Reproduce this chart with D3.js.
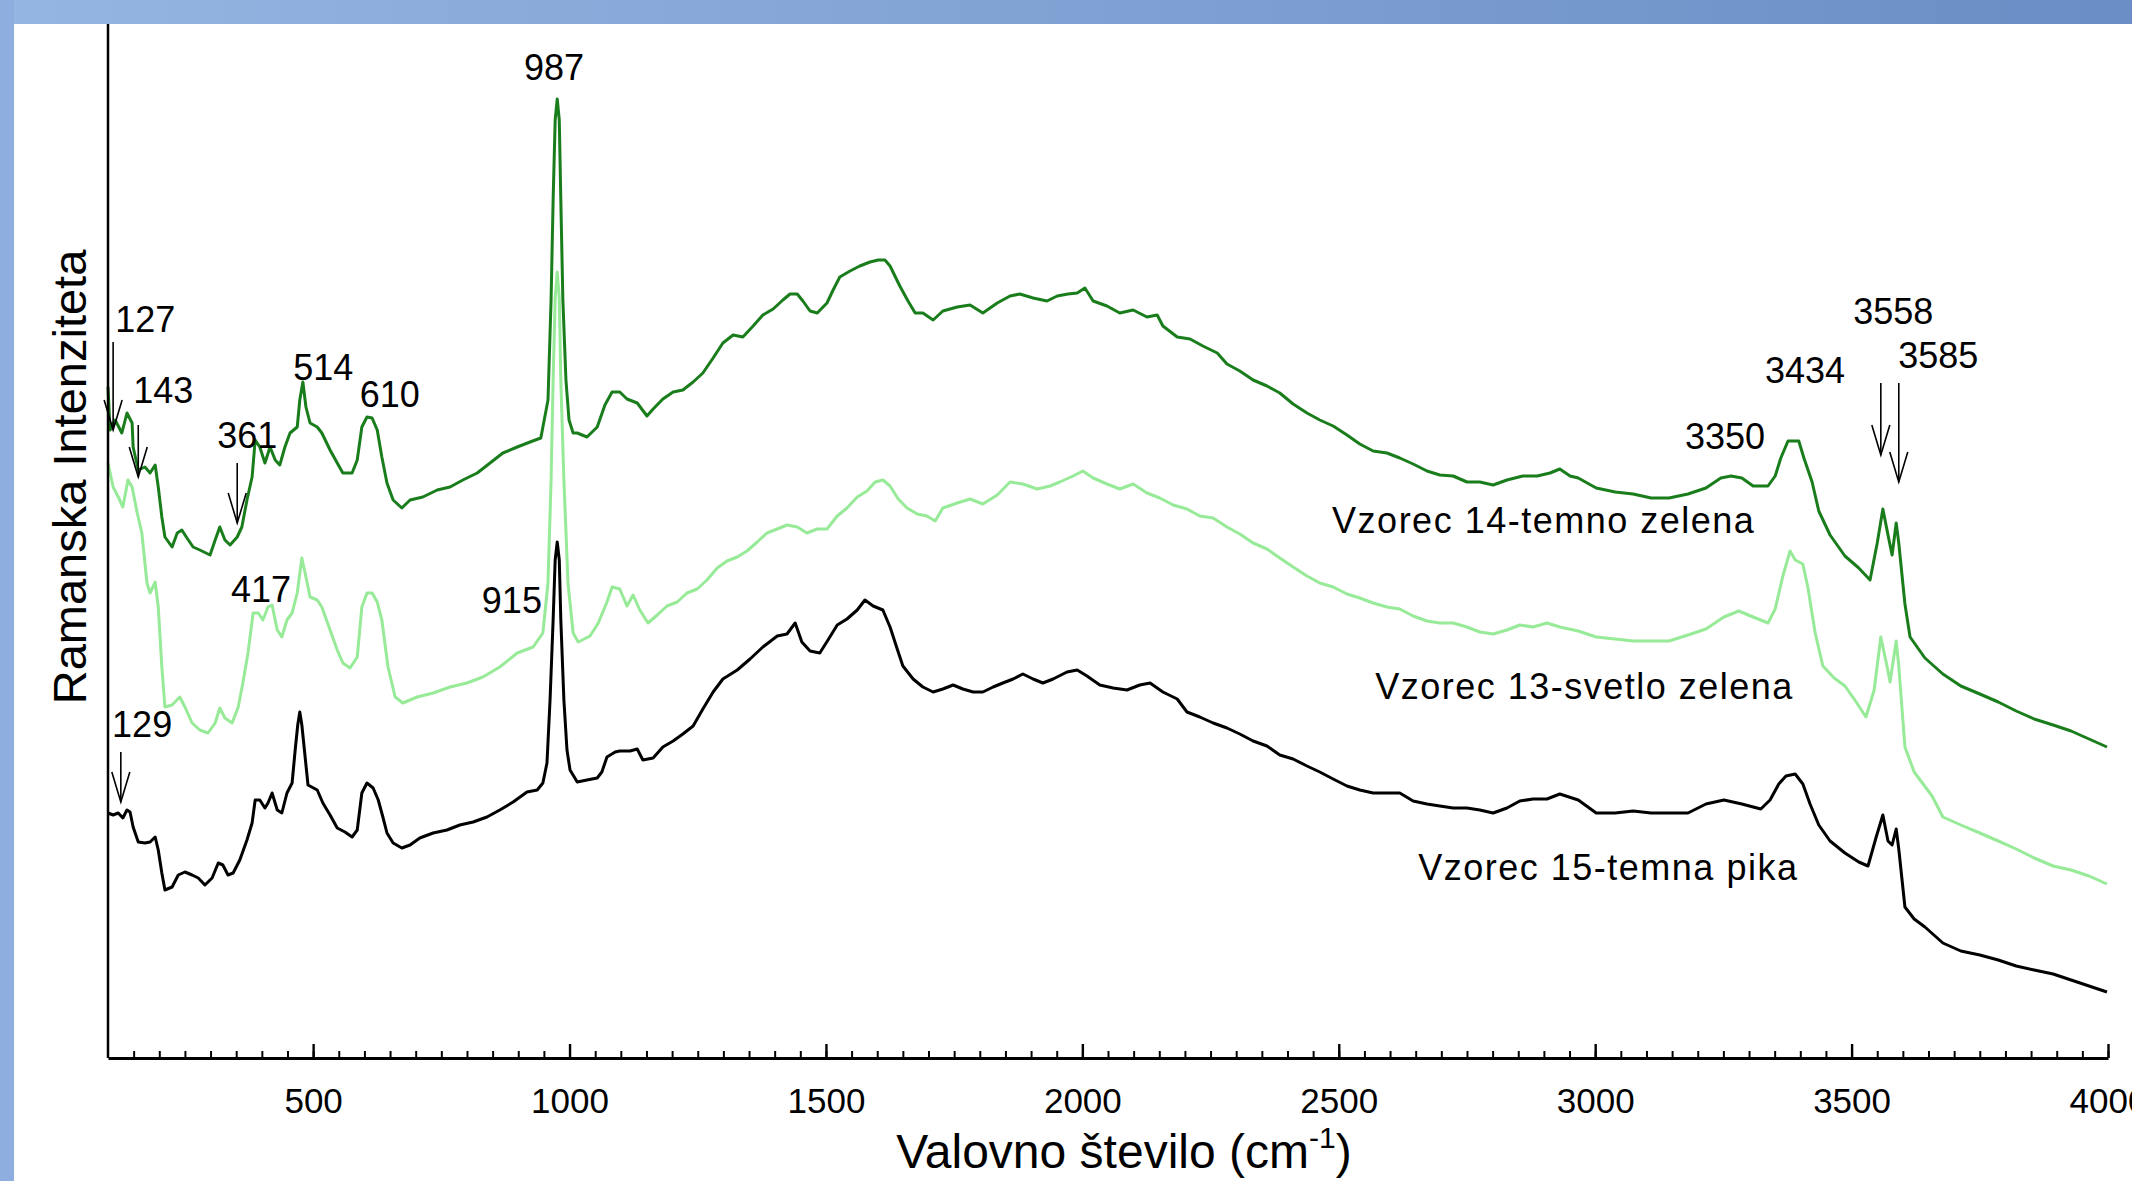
<!DOCTYPE html>
<html>
<head>
<meta charset="utf-8">
<script src="https://cdn.jsdelivr.net/npm/d3@7"></script>
<style>
  body { margin: 0; background: #fff; }
  svg { display: block; }
  text { font-family: "Liberation Sans", Arial, sans-serif; fill: #000; }
</style>
</head>
<body>
<svg id="chart" width="2132" height="1181"></svg>
<script>
// spectra: [wavenumber cm-1, intensity (arb. units)]
var sample14 = [[100,671],[104,628],[114,638],[127,625],[137,645],[147,635],[149,611],[159,588],[172,591],[182,585],[192,593],[198,571],[205,541],[211,521],[225,511],[235,525],[244,528],[254,520],[266,511],[279,508],[299,503],[309,518],[318,531],[328,518],[338,513],[352,521],[361,531],[371,558],[381,581],[387,618],[396,611],[406,595],[416,611],[426,598],[435,593],[445,611],[455,625],[469,631],[474,658],[480,676],[486,651],[494,635],[508,631],[517,625],[533,608],[547,595],[558,585],[576,585],[586,598],[595,631],[605,641],[615,640],[625,628],[634,601],[644,575],[656,558],[673,550],[689,558],[714,561],[742,568],[767,571],[792,578],[820,585],[845,595],[870,605],[898,611],[923,616],[944,620],[958,658],[964,758],[968,858],[972,938],[976,959],[980,938],[983,858],[987,758],[993,678],[999,638],[1007,625],[1015,625],[1034,621],[1054,631],[1069,653],[1083,666],[1098,666],[1112,659],[1132,655],[1151,642],[1163,649],[1182,659],[1202,666],[1221,668],[1241,676],[1260,685],[1280,700],[1299,715],[1319,723],[1338,721],[1358,732],[1377,743],[1397,749],[1416,758],[1430,764],[1444,764],[1455,757],[1469,747],[1483,745],[1502,755],[1514,768],[1527,781],[1547,787],[1566,792],[1586,796],[1602,798],[1615,798],[1625,792],[1644,772],[1660,757],[1674,745],[1689,745],[1709,738],[1728,747],[1756,751],[1781,753],[1806,745],[1834,755],[1859,762],[1878,764],[1904,760],[1931,757],[1951,762],[1972,764],[1990,765],[2005,770],[2021,757],[2048,752],[2073,745],[2099,748],[2126,741],[2146,743],[2157,732],[2185,721],[2210,719],[2235,712],[2263,705],[2282,694],[2307,687],[2333,678],[2360,672],[2385,665],[2411,654],[2438,645],[2463,638],[2489,632],[2516,623],[2541,614],[2567,607],[2594,605],[2619,600],[2645,594],[2672,587],[2697,583],[2723,582],[2750,576],[2775,576],[2801,573],[2828,578],[2859,582],[2887,582],[2912,585],[2931,589],[2951,582],[2967,580],[3002,570],[3039,566],[3074,564],[3109,560],[3144,560],[3181,564],[3216,570],[3245,580],[3265,582],[3286,580],[3308,572],[3337,572],[3351,582],[3362,600],[3376,617],[3397,617],[3407,600],[3423,576],[3436,547],[3458,523],[3487,502],[3514,490],[3536,478],[3550,515],[3561,549],[3571,523],[3579,503],[3587,535],[3592,515],[3604,454],[3614,421],[3643,400],[3678,384],[3713,372],[3750,364],[3786,356],[3821,347],[3856,339],[3893,333],[3928,327],[3963,319],[3998,311]];

var sample13 = [[100,595],[110,571],[120,561],[129,551],[139,578],[147,571],[157,545],[166,525],[176,475],[182,465],[192,476],[198,451],[205,391],[211,351],[225,353],[240,361],[250,351],[264,335],[279,328],[295,325],[309,335],[318,350],[328,340],[342,335],[354,351],[363,375],[373,405],[383,445],[393,445],[402,438],[412,451],[420,453],[430,428],[439,421],[449,438],[459,445],[469,465],[478,500],[486,481],[494,461],[508,458],[517,451],[533,428],[547,408],[558,395],[572,390],[586,401],[595,451],[605,465],[615,465],[625,456],[634,438],[646,391],[660,361],[675,355],[703,361],[734,365],[767,371],[800,375],[831,381],[864,391],[898,405],[929,411],[948,425],[958,475],[964,578],[968,678],[972,760],[976,786],[980,760],[983,678],[989,578],[997,475],[1007,425],[1017,416],[1040,422],[1056,435],[1073,456],[1083,471],[1098,469],[1112,452],[1124,463],[1137,448],[1153,435],[1171,443],[1190,452],[1210,456],[1229,465],[1249,469],[1268,478],[1288,490],[1307,497],[1327,501],[1346,507],[1366,516],[1385,525],[1405,529],[1424,533],[1444,531],[1463,525],[1483,529],[1502,529],[1522,542],[1541,550],[1561,561],[1580,567],[1596,576],[1611,578],[1625,572],[1641,559],[1658,550],[1678,544],[1697,542],[1713,537],[1728,550],[1756,555],[1781,559],[1806,554],[1834,563],[1859,576],[1884,574],[1912,569],[1937,572],[1956,576],[1982,582],[2001,587],[2021,580],[2048,574],[2073,569],[2099,574],[2126,565],[2151,560],[2177,553],[2204,549],[2229,542],[2255,540],[2282,531],[2307,524],[2333,515],[2360,509],[2385,500],[2411,491],[2438,482],[2463,475],[2489,471],[2516,464],[2541,460],[2567,455],[2594,451],[2619,449],[2645,442],[2672,437],[2697,435],[2723,435],[2750,431],[2775,426],[2801,424],[2828,428],[2853,433],[2879,431],[2906,435],[2931,431],[2967,427],[3002,421],[3039,419],[3074,417],[3109,417],[3144,417],[3181,423],[3216,429],[3251,441],[3280,447],[3308,441],[3337,435],[3351,449],[3366,482],[3380,507],[3390,498],[3405,494],[3415,470],[3429,425],[3444,392],[3466,380],[3487,372],[3509,356],[3528,341],[3544,368],[3557,421],[3569,392],[3575,376],[3587,417],[3592,392],[3604,311],[3622,286],[3657,262],[3678,241],[3713,233],[3750,225],[3786,217],[3821,209],[3856,200],[3893,192],[3928,188],[3963,182],[3998,174]];

var sample15 = [[100,245],[110,243],[120,245],[129,240],[137,248],[143,246],[149,231],[159,216],[172,215],[182,216],[192,221],[198,208],[205,185],[211,168],[225,171],[237,183],[250,186],[264,183],[276,180],[289,173],[303,180],[315,195],[324,193],[334,183],[344,185],[357,198],[371,218],[381,235],[387,258],[396,258],[406,250],[412,255],[420,265],[430,248],[439,245],[449,265],[459,275],[465,308],[470,333],[474,346],[478,333],[484,303],[490,273],[508,268],[519,255],[533,243],[547,230],[562,226],[576,221],[586,228],[595,265],[605,275],[617,270],[627,258],[636,241],[644,225],[656,215],[673,210],[689,213],[708,220],[734,225],[761,228],[786,233],[812,236],[839,241],[864,248],[890,256],[917,266],[937,268],[948,275],[956,295],[962,358],[968,438],[972,498],[976,516],[980,498],[983,438],[989,358],[995,308],[1001,288],[1015,276],[1034,278],[1054,280],[1063,286],[1073,301],[1089,306],[1098,307],[1118,307],[1132,309],[1143,298],[1163,300],[1182,311],[1202,317],[1221,324],[1241,332],[1260,349],[1280,366],[1299,379],[1327,388],[1352,399],[1377,411],[1405,422],[1424,424],[1440,435],[1453,416],[1469,407],[1488,405],[1504,418],[1522,433],[1541,439],[1561,448],[1576,458],[1592,452],[1611,448],[1625,431],[1639,409],[1650,392],[1670,379],[1689,371],[1709,366],[1728,369],[1748,373],[1767,369],[1787,366],[1806,366],[1826,371],[1845,375],[1865,379],[1884,384],[1904,379],[1923,375],[1943,379],[1970,386],[1990,388],[2009,382],[2034,373],[2060,370],[2087,368],[2112,373],[2132,375],[2157,366],[2185,359],[2204,346],[2229,341],[2255,335],[2282,330],[2307,324],[2333,317],[2360,312],[2385,303],[2411,299],[2438,292],[2463,286],[2489,279],[2516,272],[2541,268],[2567,265],[2594,265],[2619,265],[2645,257],[2672,254],[2697,252],[2723,250],[2750,250],[2775,248],[2801,245],[2828,250],[2853,257],[2879,259],[2906,259],[2931,264],[2967,258],[3002,245],[3039,245],[3074,247],[3109,245],[3144,245],[3181,245],[3216,254],[3251,258],[3286,254],[3323,249],[3341,258],[3358,274],[3372,282],[3390,284],[3405,274],[3419,254],[3436,233],[3458,217],[3487,205],[3514,196],[3532,192],[3548,221],[3561,243],[3571,217],[3579,213],[3587,229],[3592,209],[3604,151],[3622,139],[3643,131],[3678,115],[3713,107],[3750,103],[3786,98],[3821,92],[3856,88],[3893,84],[3928,78],[3963,72],[3998,66]];

// x axis ticks
var majorTicks = [500, 1000, 1500, 2000, 2500, 3000, 3500, 4000];
var minorTicks = d3.range(150, 4001, 50);

// peak labels: [text, wavenumber, intensity]
var peakLabels = [
    ['127', 114, 726], ['143', 149, 655], ['514', 461, 678], ['610', 591, 651],
    ['361', 313, 610], ['417', 340, 456], ['915', 829, 445], ['129', 108, 321],
    ['987', 911, 978], ['3558', 3503, 734], ['3434', 3331, 675], ['3585', 3591, 690],
    ['3350', 3175, 609]
];

// arrows: [wavenumber, top intensity, tip intensity]
var arrows = [
    [110, 716, 628], [159, 633, 581], [352, 595, 535], [125, 306, 256],
    [3557, 675, 603], [3592, 675, 576]
];

// series names: [text, wavenumber, intensity]
var seriesLabels = [
    ['Vzorec 14-temno zelena', 2487, 525],
    ['Vzorec 13-svetlo zelena', 2571, 359],
    ['Vzorec 15-temna pika', 2655, 178]
];

var svg = d3.select('#chart');

// slide background: blue frame around the white figure
var defs = svg.append('defs');
var grad = defs.append('linearGradient').attr('id', 'band');
grad.append('stop').attr('offset', '0%').attr('stop-color', '#95b5e2');
grad.append('stop').attr('offset', '100%').attr('stop-color', '#6a8ec5');

svg.append('rect').attr('width', 2132).attr('height', 1181).attr('fill', '#fff');
svg.append('rect').attr('width', 2132).attr('height', 24).attr('fill', 'url(#band)');
svg.append('rect').attr('y', 0).attr('width', 14).attr('height', 1181).attr('fill', '#8eaedf');

var x = d3.scaleLinear().domain([100, 4000]).range([108, 2108]);
var y = d3.scaleLinear().domain([0, 1034]).range([1058, 24]);

var line = d3.line()
    .x(d => x(d[0]))
    .y(d => y(d[1]));

// spectra (light green under the dark green one)
var series = [
    {data: sample13, color: '#97ea97'},
    {data: sample14, color: '#1a7d1c'},
    {data: sample15, color: '#000'}
];
svg.selectAll('path.spec')
    .data(series)
    .join('path')
    .attr('class', 'spec')
    .attr('d', d => line(d.data))
    .attr('fill', 'none')
    .attr('stroke', d => d.color)
    .attr('stroke-width', 3)
    .attr('stroke-linejoin', 'round');

// x axis with inward ticks
var minorAxis = d3.axisBottom(x).tickValues(minorTicks).tickSizeInner(-7).tickSizeOuter(0).tickFormat('');
var majorAxis = d3.axisBottom(x).tickValues(majorTicks).tickSizeInner(-14).tickSizeOuter(0).tickFormat(d3.format('d'));

svg.append('g').attr('transform', 'translate(0,1058)').call(minorAxis)
    .call(g => g.select('.domain').remove())
    .call(g => g.selectAll('line').attr('stroke', '#000').attr('stroke-width', 2));

var gx = svg.append('g').attr('transform', 'translate(0,1058)').call(majorAxis);
gx.select('.domain').attr('stroke', '#000').attr('stroke-width', 3);
gx.selectAll('line').attr('stroke', '#000').attr('stroke-width', 2.4);
gx.selectAll('text')
    .attr('y', 55).attr('dy', null)
    .style('font-size', '35px')
    .style('font-family', '"Liberation Sans", Arial, sans-serif')
    .attr('fill', '#000');

// y axis line only
svg.append('line')
    .attr('x1', 108).attr('x2', 108)
    .attr('y1', 24).attr('y2', 1058)
    .attr('stroke', '#000').attr('stroke-width', 2.5);

// axis titles
var xt = svg.append('text')
    .attr('x', 1124).attr('y', 1168)
    .attr('text-anchor', 'middle')
    .style('font-size', '48px');
xt.append('tspan').text('Valovno število (cm');
xt.append('tspan').attr('dy', -20).style('font-size', '30px').text('-1');
xt.append('tspan').attr('dy', 20).text(')');

svg.append('text')
    .attr('transform', 'translate(86,477) rotate(-90)')
    .attr('text-anchor', 'middle')
    .style('font-size', '47px')
    .text('Ramanska Intenziteta');

// peak labels
svg.selectAll('text.peak')
    .data(peakLabels)
    .join('text')
    .attr('class', 'peak')
    .attr('x', d => x(d[1]))
    .attr('y', d => y(d[2]))
    .style('font-size', '36px')
    .text(d => d[0]);

// arrows: shaft plus open head
var ag = svg.selectAll('g.arrow')
    .data(arrows)
    .join('g')
    .attr('class', 'arrow')
    .attr('stroke', '#000')
    .attr('stroke-width', 1.6)
    .attr('fill', 'none');
ag.append('line')
    .attr('x1', d => x(d[0])).attr('x2', d => x(d[0]))
    .attr('y1', d => y(d[1])).attr('y2', d => y(d[2]));
ag.append('path')
    .attr('d', d => {
        var tx = x(d[0]), ty = y(d[2]);
        return 'M' + (tx - 9) + ',' + (ty - 30) + 'L' + tx + ',' + ty + 'L' + (tx + 9) + ',' + (ty - 30);
    });

// series names
svg.selectAll('text.series')
    .data(seriesLabels)
    .join('text')
    .attr('class', 'series')
    .attr('x', d => x(d[1]))
    .attr('y', d => y(d[2]))
    .style('font-size', '36px')
    .style('letter-spacing', '1.5px')
    .text(d => d[0]);
</script>
</body>
</html>
